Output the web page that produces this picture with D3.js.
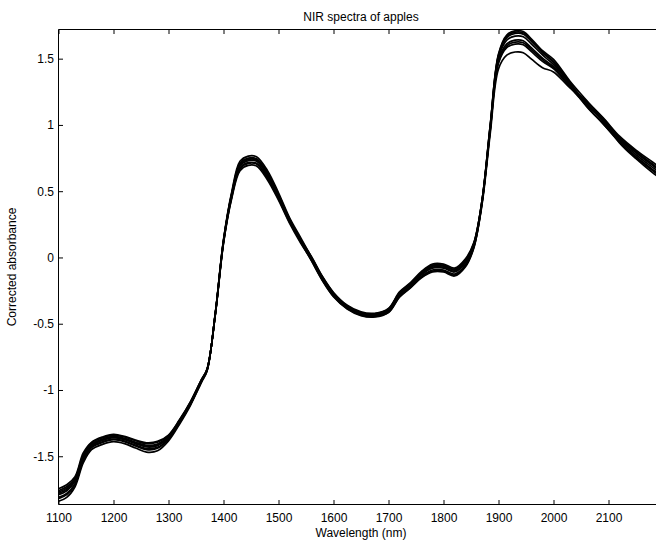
<!DOCTYPE html>
<html>
<head>
<meta charset="utf-8">
<script src="https://cdn.jsdelivr.net/npm/d3@7/dist/d3.min.js"></script>
<style>
  html, body { margin: 0; padding: 0; background: #fff; overflow: hidden; }
  svg { display: block; }
  text { font-family: "Liberation Sans", Arial, sans-serif; fill: #000; }
</style>
</head>
<body>
<div id="chart"></div>
<script>
// Wavelength grid (nm) shared by all spectra
const wavelengths = [1100,1115,1130,1145,1160,1180,1200,1220,1240,1260,1280,1300,1320,1340,1360,1370,1385,1400,1415,1430,1445,1460,1480,1500,1520,1540,1560,1580,1600,1625,1650,1675,1700,1720,1740,1760,1780,1800,1820,1840,1855,1870,1885,1900,1915,1930,1945,1960,1980,2000,2030,2060,2090,2120,2150,2180,2200];

// Corrected absorbance of each apple sample
const sample1 = [-1.745,-1.715,-1.654,-1.475,-1.395,-1.355,-1.335,-1.35,-1.378,-1.398,-1.388,-1.34,-1.225,-1.088,-0.92,-0.843,-0.437,0.106,0.446,0.655,0.695,0.69,0.585,0.432,0.259,0.111,-0.018,-0.168,-0.288,-0.382,-0.432,-0.442,-0.408,-0.29,-0.22,-0.142,-0.095,-0.095,-0.125,-0.055,0.08,0.398,0.936,1.423,1.526,1.55,1.545,1.496,1.432,1.40,1.28,1.18,1.055,0.915,0.81,0.72,0.66];
const sample2 = [-1.84,-1.81,-1.73,-1.55,-1.45,-1.41,-1.39,-1.405,-1.438,-1.469,-1.459,-1.384,-1.258,-1.115,-0.942,-0.859,-0.423,0.134,0.495,0.725,0.765,0.76,0.655,0.488,0.301,0.152,0.002,-0.148,-0.268,-0.365,-0.415,-0.425,-0.388,-0.265,-0.195,-0.112,-0.058,-0.058,-0.088,-0.018,0.105,0.43,1.0,1.535,1.678,1.71,1.705,1.648,1.56,1.495,1.33,1.185,1.035,0.865,0.745,0.64,0.58];
const sample3 = [-1.79,-1.76,-1.69,-1.505,-1.41,-1.37,-1.35,-1.365,-1.394,-1.417,-1.407,-1.352,-1.234,-1.095,-0.926,-0.847,-0.43,0.12,0.47,0.69,0.73,0.725,0.62,0.46,0.28,0.12,-0.026,-0.176,-0.296,-0.389,-0.439,-0.449,-0.416,-0.3,-0.23,-0.154,-0.11,-0.11,-0.14,-0.07,0.07,0.41,0.96,1.465,1.583,1.61,1.605,1.553,1.48,1.425,1.295,1.175,1.05,0.905,0.80,0.705,0.645];
const sample4 = [-1.77,-1.74,-1.674,-1.5,-1.42,-1.38,-1.36,-1.375,-1.405,-1.43,-1.42,-1.36,-1.24,-1.1,-0.93,-0.85,-0.428,0.124,0.477,0.7,0.74,0.735,0.63,0.468,0.286,0.139,-0.002,-0.152,-0.272,-0.368,-0.418,-0.428,-0.392,-0.27,-0.2,-0.118,-0.065,-0.065,-0.095,-0.025,0.1,0.426,0.992,1.521,1.659,1.69,1.685,1.629,1.544,1.47,1.305,1.14,1.01,0.875,0.76,0.665,0.605];
const sample5 = [-1.82,-1.79,-1.714,-1.533,-1.435,-1.395,-1.375,-1.39,-1.422,-1.45,-1.44,-1.372,-1.249,-1.108,-0.936,-0.855,-0.426,0.128,0.484,0.71,0.75,0.745,0.64,0.476,0.292,0.138,-0.01,-0.16,-0.28,-0.375,-0.425,-0.435,-0.4,-0.28,-0.21,-0.13,-0.08,-0.08,-0.11,-0.04,0.09,0.416,0.972,1.486,1.611,1.64,1.635,1.581,1.504,1.44,1.295,1.16,1.035,0.895,0.79,0.695,0.635];
const sample6 = [-1.78,-1.75,-1.682,-1.495,-1.4,-1.36,-1.34,-1.355,-1.383,-1.404,-1.394,-1.344,-1.228,-1.09,-0.922,-0.844,-0.433,0.114,0.46,0.675,0.715,0.71,0.605,0.448,0.271,0.134,0.006,-0.144,-0.264,-0.361,-0.411,-0.421,-0.384,-0.26,-0.19,-0.106,-0.05,-0.05,-0.08,-0.01,0.11,0.428,0.996,1.528,1.668,1.7,1.695,1.638,1.552,1.48,1.32,1.145,1.01,0.87,0.755,0.655,0.595];
const sample7 = [-1.81,-1.78,-1.706,-1.525,-1.43,-1.39,-1.37,-1.385,-1.416,-1.443,-1.433,-1.368,-1.246,-1.105,-0.934,-0.853,-0.428,0.124,0.477,0.7,0.74,0.735,0.63,0.468,0.286,0.127,-0.022,-0.172,-0.292,-0.386,-0.436,-0.446,-0.412,-0.295,-0.225,-0.148,-0.103,-0.103,-0.133,-0.063,0.075,0.413,0.966,1.476,1.597,1.625,1.62,1.567,1.492,1.43,1.285,1.15,1.04,0.90,0.795,0.70,0.64];
const sample8 = [-1.76,-1.73,-1.666,-1.492,-1.415,-1.375,-1.355,-1.37,-1.4,-1.424,-1.414,-1.356,-1.237,-1.098,-0.928,-0.849,-0.434,0.112,0.456,0.67,0.71,0.705,0.6,0.444,0.268,0.125,-0.006,-0.156,-0.276,-0.372,-0.422,-0.432,-0.396,-0.275,-0.205,-0.124,-0.073,-0.073,-0.103,-0.033,0.095,0.422,0.984,1.507,1.64,1.67,1.665,1.61,1.528,1.455,1.31,1.165,1.025,0.885,0.775,0.68,0.62];

const spectra = [sample1, sample2, sample3, sample4, sample5, sample6, sample7, sample8];

// Axis ticks
const xTicks = [1100,1200,1300,1400,1500,1600,1700,1800,1900,2000,2100];
const yTicks = [-1.5,-1,-0.5,0,0.5,1,1.5];

const W = 656, H = 541;
const plot = { left: 58.5, right: 663.5, top: 29.5, bottom: 504.5 };

const svg = d3.select("#chart").append("svg")
  .attr("width", W).attr("height", H);

const x = d3.scaleLinear().domain([1100, 2200]).range([plot.left, plot.right]);
const y = d3.scaleLinear().domain([-1.864, 1.72]).range([plot.bottom, plot.top]);

svg.append("defs").append("clipPath").attr("id", "plotClip")
  .append("rect")
  .attr("x", plot.left).attr("y", plot.top)
  .attr("width", plot.right - plot.left).attr("height", plot.bottom - plot.top);

// Spectra
const line = d3.line()
  .x((d, i) => x(wavelengths[i]))
  .y(d => y(d))
  .curve(d3.curveCatmullRom.alpha(0.5));

svg.append("g").attr("clip-path", "url(#plotClip)")
  .selectAll("path").data(spectra).join("path")
  .attr("d", line)
  .attr("fill", "none")
  .attr("stroke", "#000")
  .attr("stroke-width", 1.7)
  .attr("stroke-linejoin", "round");

// Axes with inward ticks, ticks mirrored on the top edge
const fmt = d => String(d);
const tickLen = 4.5;

const xAxisBottom = d3.axisBottom(x).tickValues(xTicks).tickSize(-tickLen).tickPadding(9).tickFormat(fmt);
const xAxisTop = d3.axisTop(x).tickValues(xTicks).tickSize(-tickLen).tickFormat("");
const yAxisLeft = d3.axisLeft(y).tickValues(yTicks).tickSize(-tickLen).tickPadding(4.5).tickFormat(fmt);

function style(g) {
  g.select(".domain").attr("stroke", "#000").attr("stroke-width", 1);
  g.selectAll(".tick line").attr("stroke", "#000").attr("stroke-width", 1);
  g.selectAll(".tick text")
    .style("font-family", '"Liberation Sans", Arial, sans-serif')
    .style("font-size", "12px").attr("fill", "#000");
}

svg.append("g").attr("transform", `translate(0,${plot.bottom})`).call(xAxisBottom).call(style)
  .call(g => g.select(".domain").attr("d", `M${plot.left},0H${plot.right}`));
svg.append("g").attr("transform", `translate(0,${plot.top})`).call(xAxisTop).call(style)
  .call(g => g.select(".domain").attr("d", `M${plot.left},0H${plot.right}`));
svg.append("g").attr("transform", `translate(${plot.left},0)`).call(yAxisLeft).call(style)
  .call(g => g.select(".domain").attr("d", `M0,${plot.top}V${plot.bottom}`));

// Title and axis labels
svg.append("text")
  .attr("x", (plot.left + plot.right) / 2).attr("y", 21)
  .attr("text-anchor", "middle").style("font-size", "12px")
  .text("NIR spectra of apples");

svg.append("text")
  .attr("x", (plot.left + plot.right) / 2).attr("y", 537)
  .attr("text-anchor", "middle").style("font-size", "12px")
  .text("Wavelength (nm)");

svg.append("text")
  .attr("transform", `translate(16,${(plot.top + plot.bottom) / 2}) rotate(-90)`)
  .attr("text-anchor", "middle").style("font-size", "12px")
  .text("Corrected absorbance");
</script>
</body>
</html>
